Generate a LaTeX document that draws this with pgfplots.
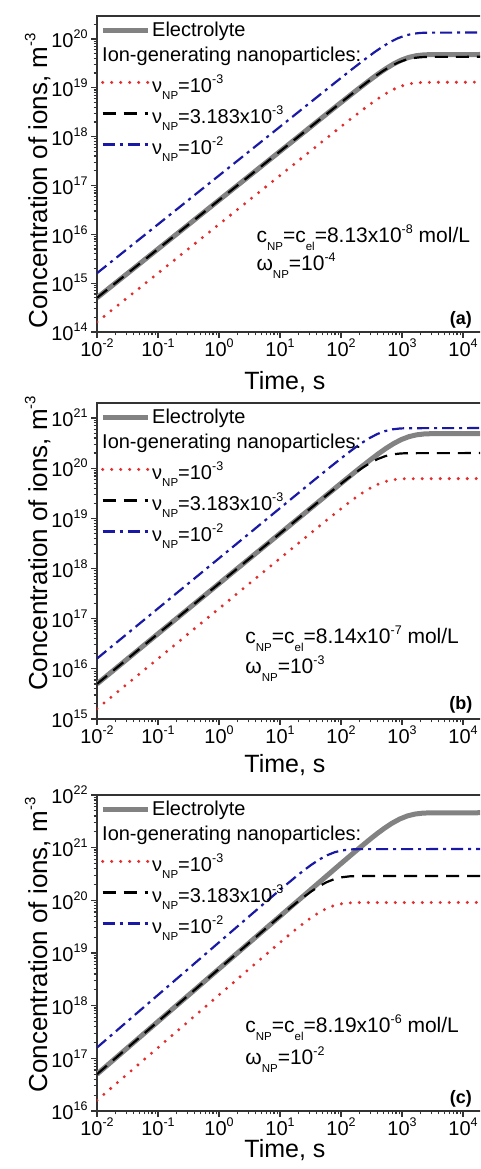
\documentclass[border=0pt]{standalone}
\usepackage{pgfplots}
\pgfplotsset{compat=1.18}
\usepackage{fontspec}
\setmainfont{Liberation Sans}
\newcommand\sups[1]{\raisebox{0.45em}{\fontsize{12.5}{12.5}\selectfont #1}}
\newcommand\subs[1]{\raisebox{-0.38em}{\fontsize{11.5}{11.5}\selectfont #1}}
\newcommand\supl[1]{\raisebox{0.45em}{\fontsize{15}{15}\selectfont #1}}
\newcommand\lstrut{\rule[-13.5pt]{0pt}{34.5pt}}
\definecolor{elgray}{RGB}{130,130,130}
\definecolor{npred}{RGB}{225,45,45}
\definecolor{npblue}{RGB}{25,25,165}
\begin{document}
\begin{tikzpicture}
\path[use as bounding box] (0,0) rectangle (480pt,1169pt);
\clip (0,0) rectangle (480pt,1169pt);
% ---------------- panel (a)
\begin{axis}[xmode=log, ymode=log, scale only axis, width=384.3pt, height=316pt,
  at={(97pt,837pt)}, anchor=south west, xmin=0.01, xmax=19952.6, ymin=1e14, ymax=2.951e20,
  xtick={0.01,0.1,1,10,100,1000,10000},
  xticklabels={10\sups{-2},10\sups{-1},10\sups{0},10\sups{1},10\sups{2},10\sups{3},10\sups{4}},
  minor xtick={0.02,0.03,0.04,0.05,0.06,0.07,0.08,0.09,0.2,0.3,0.4,0.5,0.6,0.7,0.8,0.9,2,3,4,5,6,7,8,9,20,30,40,50,60,70,80,90,200,300,400,500,600,700,800,900,2000,3000,4000,5000,6000,7000,8000,9000},
  ytick={1e14,1e15,1e16,1e17,1e18,1e19,1e20},
  yticklabels={10\sups{14},10\sups{15},10\sups{16},10\sups{17},10\sups{18},10\sups{19},10\sups{20}},
  minor ytick={2e14,3e14,4e14,5e14,6e14,7e14,8e14,9e14,2e15,3e15,4e15,5e15,6e15,7e15,8e15,9e15,2e16,3e16,4e16,5e16,6e16,7e16,8e16,9e16,2e17,3e17,4e17,5e17,6e17,7e17,8e17,9e17,2e18,3e18,4e18,5e18,6e18,7e18,8e18,9e18,2e19,3e19,4e19,5e19,6e19,7e19,8e19,9e19,2e20},
  tick align=outside, tick pos=left, major tick length=6pt, minor tick length=3.5pt,
  axis line style={line width=1.4pt, black!80},
  tick style={black!80, line width=1.2pt},
  tick label style={font=\fontsize{20}{24}\selectfont},
  xticklabel style={yshift=3pt},
  xlabel={Time, s},
  ylabel={Concentration of ions, m\supl{-3}},
  xlabel style={font=\fontsize{25}{30}\selectfont, at={(axis description cs:0.489,-0.1835)}, anchor=base},
  ylabel style={font=\fontsize{26}{30}\selectfont, at={(axis description cs:-0.130,0.478)}, anchor=base},
  legend image code/.code={\draw[#1] (0pt,0pt) -- (45pt,0pt);},
  legend cell align=left,
  legend style={at={(0,1)}, anchor=north west, draw=none, fill=none, inner sep=0pt, xshift=3pt, yshift=-4pt, row sep=4.5pt, font=\fontsize{20}{24}\selectfont},
]
\addplot[elgray, line width=5pt, line join=round] coordinates {(0.01,5e14)(96,4.786e18)(170.7,8.453e18)(303.6,1.468e19)(404.8,1.913e19)(539.8,2.446e19)(720,3.048e19)(960,3.656e19)(1280,4.177e19)(1707,4.534e19)(2277,4.717e19)(3036,4.783e19)(20000,4.8e19)};
\addlegendentry{Electrolyte}
\addlegendimage{empty legend}
\addlegendentry{\hspace*{-50pt}Ion-generating nanoparticles:}
\addplot[npred, line width=3.3pt, line cap=round, dash pattern=on 0pt off 9pt] coordinates {(0.01,1.6e14)(81,1.296e18)(144.0,2.289e18)(256.1,3.977e18)(341.6,5.182e18)(455.5,6.625e18)(607.4,8.256e18)(810,9.901e18)(1080.1,1.131e19)(1440.4,1.228e19)(1920.8,1.278e19)(2561.5,1.295e19)(20000,1.3e19)};
\addlegendentry{\lstrut ν\subs{NP}=10\sups{-3}}
\addplot[black, line width=2.2pt, dash pattern=on 13pt off 8pt] coordinates {(0.01,5e14)(86,4.287e18)(152.9,7.572e18)(271.9,1.315e19)(362.7,1.714e19)(483.6,2.191e19)(645,2.731e19)(860,3.275e19)(1146.8,3.742e19)(1529.3,4.061e19)(2039.4,4.226e19)(2719.6,4.285e19)(20000,4.3e19)};
\addlegendentry{\lstrut ν\subs{NP}=3.183x10\sups{-3}}
\addplot[npblue, line width=2.2pt, dash pattern=on 12pt off 5pt on 3pt off 5pt] coordinates {(0.01,1.6e15)(84.5,1.346e19)(150.2,2.377e19)(267.2,4.130e19)(356.3,5.381e19)(475.1,6.880e19)(633.7,8.574e19)(845,1.028e20)(1126.8,1.175e20)(1502.7,1.275e20)(2003.8,1.327e20)(2672.1,1.345e20)(20000,1.35e20)};
\addlegendentry{\lstrut ν\subs{NP}=10\sups{-2}}
\node[anchor=base west, font=\fontsize{21}{24}\selectfont] at (rel axis cs:0.406,0.282) {c\subs{NP}=c\subs{el}=8.13x10\sups{-8} mol/L};
\node[anchor=base west, font=\fontsize{21}{24}\selectfont] at (rel axis cs:0.406,0.193) {ω\subs{NP}=10\sups{-4}};
\node[anchor=base, font=\bfseries\fontsize{18}{22}\selectfont] at (rel axis cs:0.947,0.025) {(a)};
\end{axis}
% ---------------- panel (b)
\begin{axis}[xmode=log, ymode=log, scale only axis, width=384.3pt, height=316pt,
  at={(97pt,450pt)}, anchor=south west, xmin=0.01, xmax=19952.6, ymin=1e15, ymax=1.995e21,
  xtick={0.01,0.1,1,10,100,1000,10000},
  xticklabels={10\sups{-2},10\sups{-1},10\sups{0},10\sups{1},10\sups{2},10\sups{3},10\sups{4}},
  minor xtick={0.02,0.03,0.04,0.05,0.06,0.07,0.08,0.09,0.2,0.3,0.4,0.5,0.6,0.7,0.8,0.9,2,3,4,5,6,7,8,9,20,30,40,50,60,70,80,90,200,300,400,500,600,700,800,900,2000,3000,4000,5000,6000,7000,8000,9000},
  ytick={1e15,1e16,1e17,1e18,1e19,1e20,1e21},
  yticklabels={10\sups{15},10\sups{16},10\sups{17},10\sups{18},10\sups{19},10\sups{20},10\sups{21}},
  minor ytick={2e15,3e15,4e15,5e15,6e15,7e15,8e15,9e15,2e16,3e16,4e16,5e16,6e16,7e16,8e16,9e16,2e17,3e17,4e17,5e17,6e17,7e17,8e17,9e17,2e18,3e18,4e18,5e18,6e18,7e18,8e18,9e18,2e19,3e19,4e19,5e19,6e19,7e19,8e19,9e19,2e20,3e20,4e20,5e20,6e20,7e20,8e20,9e20},
  tick align=outside, tick pos=left, major tick length=6pt, minor tick length=3.5pt,
  axis line style={line width=1.4pt, black!80},
  tick style={black!80, line width=1.2pt},
  tick label style={font=\fontsize{20}{24}\selectfont},
  xticklabel style={yshift=3pt},
  xlabel={Time, s},
  ylabel={Concentration of ions, m\supl{-3}},
  xlabel style={font=\fontsize{25}{30}\selectfont, at={(axis description cs:0.489,-0.168)}, anchor=base},
  ylabel style={font=\fontsize{26}{30}\selectfont, at={(axis description cs:-0.130,0.556)}, anchor=base},
  legend image code/.code={\draw[#1] (0pt,0pt) -- (45pt,0pt);},
  legend cell align=left,
  legend style={at={(0,1)}, anchor=north west, draw=none, fill=none, inner sep=0pt, xshift=3pt, yshift=-4pt, row sep=4.5pt, font=\fontsize{20}{24}\selectfont},
]
\addplot[elgray, line width=5pt, line join=round] coordinates {(0.01,5e15)(98,4.885e19)(174.2,8.629e19)(309.9,1.499e20)(413.3,1.953e20)(551.1,2.497e20)(735,3.112e20)(980,3.732e20)(1306.8,4.264e20)(1742.7,4.628e20)(2324,4.815e20)(3099,4.882e20)(20000,4.9e20)};
\addlegendentry{Electrolyte}
\addlegendimage{empty legend}
\addlegendentry{\hspace*{-50pt}Ion-generating nanoparticles:}
\addplot[npred, line width=3.3pt, line cap=round, dash pattern=on 0pt off 9pt] coordinates {(0.01,1.6e15)(39,6.181e18)(69.3,1.092e19)(123.3,1.897e19)(164.5,2.471e19)(219.3,3.160e19)(292.5,3.938e19)(390,4.722e19)(520.1,5.395e19)(693.5,5.856e19)(924.8,6.093e19)(1233.3,6.178e19)(20000,6.2e19)};
\addlegendentry{\lstrut ν\subs{NP}=10\sups{-3}}
\addplot[black, line width=2.2pt, dash pattern=on 13pt off 8pt] coordinates {(0.01,5e15)(40,1.994e19)(71.1,3.522e19)(126.5,6.118e19)(168.7,7.972e19)(224.9,1.019e20)(300,1.270e20)(400,1.523e20)(533.4,1.740e20)(711.3,1.889e20)(948.6,1.965e20)(1264.9,1.993e20)(20000,2e20)};
\addlegendentry{\lstrut ν\subs{NP}=3.183x10\sups{-3}}
\addplot[npblue, line width=2.2pt, dash pattern=on 12pt off 5pt on 3pt off 5pt] coordinates {(0.01,1.6e16)(39.4,6.281e19)(70.1,1.109e20)(124.6,1.927e20)(166.1,2.511e20)(221.5,3.210e20)(295.5,4.001e20)(394,4.798e20)(525.4,5.482e20)(700.6,5.950e20)(934.3,6.191e20)(1245.9,6.277e20)(20000,6.3e20)};
\addlegendentry{\lstrut ν\subs{NP}=10\sups{-2}}
\node[anchor=base west, font=\fontsize{21}{24}\selectfont] at (rel axis cs:0.377,0.238) {c\subs{NP}=c\subs{el}=8.14x10\sups{-7} mol/L};
\node[anchor=base west, font=\fontsize{21}{24}\selectfont] at (rel axis cs:0.377,0.143) {ω\subs{NP}=10\sups{-3}};
\node[anchor=base, font=\bfseries\fontsize{18}{22}\selectfont] at (rel axis cs:0.947,0.029) {(b)};
\end{axis}
% ---------------- panel (c)
\begin{axis}[xmode=log, ymode=log, scale only axis, width=384.3pt, height=316pt,
  at={(97pt,58pt)}, anchor=south west, xmin=0.01, xmax=19952.6, ymin=1e16, ymax=1e22,
  xtick={0.01,0.1,1,10,100,1000,10000},
  xticklabels={10\sups{-2},10\sups{-1},10\sups{0},10\sups{1},10\sups{2},10\sups{3},10\sups{4}},
  minor xtick={0.02,0.03,0.04,0.05,0.06,0.07,0.08,0.09,0.2,0.3,0.4,0.5,0.6,0.7,0.8,0.9,2,3,4,5,6,7,8,9,20,30,40,50,60,70,80,90,200,300,400,500,600,700,800,900,2000,3000,4000,5000,6000,7000,8000,9000},
  ytick={1e16,1e17,1e18,1e19,1e20,1e21,1e22},
  yticklabels={10\sups{16},10\sups{17},10\sups{18},10\sups{19},10\sups{20},10\sups{21},10\sups{22}},
  minor ytick={2e16,3e16,4e16,5e16,6e16,7e16,8e16,9e16,2e17,3e17,4e17,5e17,6e17,7e17,8e17,9e17,2e18,3e18,4e18,5e18,6e18,7e18,8e18,9e18,2e19,3e19,4e19,5e19,6e19,7e19,8e19,9e19,2e20,3e20,4e20,5e20,6e20,7e20,8e20,9e20,2e21,3e21,4e21,5e21,6e21,7e21,8e21,9e21},
  tick align=outside, tick pos=left, major tick length=6pt, minor tick length=3.5pt,
  axis line style={line width=1.4pt, black!80},
  tick style={black!80, line width=1.2pt},
  tick label style={font=\fontsize{20}{24}\selectfont},
  xticklabel style={yshift=3pt},
  xlabel={Time, s},
  ylabel={Concentration of ions, m\supl{-3}},
  xlabel style={font=\fontsize{25}{30}\selectfont, at={(axis description cs:0.489,-0.148)}, anchor=base},
  ylabel style={font=\fontsize{26}{30}\selectfont, at={(axis description cs:-0.130,0.525)}, anchor=base},
  legend image code/.code={\draw[#1] (0pt,0pt) -- (45pt,0pt);},
  legend cell align=left,
  legend style={at={(0,1)}, anchor=north west, draw=none, fill=none, inner sep=0pt, xshift=3pt, yshift=-4pt, row sep=4.5pt, font=\fontsize{20}{24}\selectfont},
]
\addplot[elgray, line width=5pt, line join=round] coordinates {(0.01,5e16)(92,4.586e20)(163.6,8.101e20)(290.9,1.407e21)(388,1.834e21)(517.3,2.344e21)(690,2.921e21)(920,3.503e21)(1226.8,4.003e21)(1636,4.345e21)(2181.7,4.520e21)(2909.3,4.583e21)(20000,4.6e21)};
\addlegendentry{Electrolyte}
\addlegendimage{empty legend}
\addlegendentry{\hspace*{-50pt}Ion-generating nanoparticles:}
\addplot[npred, line width=3.3pt, line cap=round, dash pattern=on 0pt off 9pt] coordinates {(0.01,1.6e16)(5.7,9.073e18)(10.13,1.603e19)(18.02,2.784e19)(24.04,3.627e19)(32.05,4.637e19)(42.75,5.779e19)(57,6.931e19)(76.01,7.919e19)(101.4,8.595e19)(135.2,8.943e19)(180.3,9.067e19)(20000,9.1e19)};
\addlegendentry{\lstrut ν\subs{NP}=10\sups{-3}}
\addplot[black, line width=2.2pt, dash pattern=on 13pt off 8pt] coordinates {(0.01,5e16)(5.8,2.891e19)(10.31,5.107e19)(18.34,8.871e19)(24.46,1.156e20)(32.61,1.478e20)(43.5,1.842e20)(58,2.209e20)(77.34,2.524e20)(103.1,2.739e20)(137.5,2.850e20)(183.4,2.890e20)(20000,2.9e20)};
\addlegendentry{\lstrut ν\subs{NP}=3.183x10\sups{-3}}
\addplot[npblue, line width=2.2pt, dash pattern=on 12pt off 5pt on 3pt off 5pt] coordinates {(0.01,1.6e17)(5.9,9.372e19)(10.49,1.655e20)(18.66,2.875e20)(24.88,3.747e20)(33.18,4.790e20)(44.25,5.970e20)(59,7.159e20)(78.68,8.180e20)(104.9,8.878e20)(139.9,9.237e20)(186.6,9.366e20)(20000,9.4e20)};
\addlegendentry{\lstrut ν\subs{NP}=10\sups{-2}}
\node[anchor=base west, font=\fontsize{21}{24}\selectfont] at (rel axis cs:0.377,0.247) {c\subs{NP}=c\subs{el}=8.19x10\sups{-6} mol/L};
\node[anchor=base west, font=\fontsize{21}{24}\selectfont] at (rel axis cs:0.377,0.146) {ω\subs{NP}=10\sups{-2}};
\node[anchor=base, font=\bfseries\fontsize{18}{22}\selectfont] at (rel axis cs:0.947,0.025) {(c)};
\end{axis}
\end{tikzpicture}
\end{document}
